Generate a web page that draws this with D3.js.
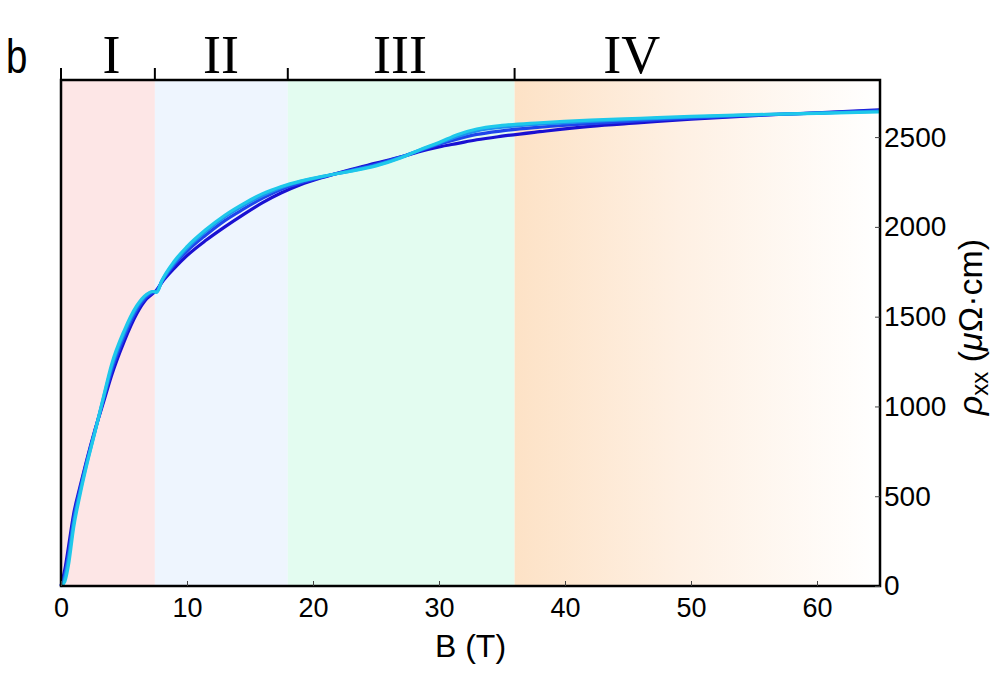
<!DOCTYPE html>
<html>
<head>
<meta charset="utf-8">
<script src="https://cdn.jsdelivr.net/npm/d3@7"></script>
<style>
  body { margin: 0; background: #fff; }
  svg { display: block; font-family: Arial, "Liberation Sans", sans-serif; }
</style>
</head>
<body>
<div id="chart"></div>
<script>
// field values (T) shared by all sweeps
var field = [0, 0.3, 0.6, 1.0, 1.5, 2.0, 2.7, 3.4, 4.0, 5.0, 6.0, 6.8, 7.3, 7.6, 8.0, 9.0, 10, 11.5, 13, 14.5, 16, 17.5, 19, 21, 23, 25, 27, 28.5, 30, 31.5, 33, 35, 38, 42, 46, 50, 55, 60, 65];

// rho_xx (uOhm cm), one array per sweep
var rho1 = [0, 90, 220, 400, 550, 690, 870, 1030, 1170, 1360, 1515, 1600, 1630, 1650, 1690, 1770, 1840, 1925, 2000, 2070, 2135, 2190, 2235, 2280, 2320, 2355, 2390, 2420, 2445, 2465, 2485, 2505, 2530, 2560, 2580, 2600, 2620, 2635, 2652];
var rho2 = [0, 65, 180, 375, 535, 682, 866, 1045, 1195, 1385, 1535, 1610, 1635, 1645, 1695, 1790, 1865, 1955, 2035, 2100, 2160, 2210, 2245, 2282, 2315, 2348, 2390, 2425, 2460, 2490, 2515, 2535, 2555, 2575, 2592, 2606, 2622, 2634, 2648];
var rho3 = [0, 45, 155, 350, 522, 672, 862, 1055, 1215, 1405, 1550, 1620, 1640, 1640, 1698, 1800, 1880, 1975, 2055, 2120, 2175, 2220, 2252, 2284, 2312, 2343, 2388, 2428, 2466, 2505, 2535, 2555, 2572, 2588, 2600, 2612, 2624, 2633, 2644];
var rho4 = [0, 25, 120, 325, 505, 662, 858, 1062, 1230, 1420, 1560, 1625, 1640, 1635, 1700, 1810, 1890, 1985, 2065, 2130, 2185, 2225, 2255, 2285, 2310, 2340, 2385, 2430, 2470, 2515, 2545, 2565, 2580, 2595, 2605, 2615, 2625, 2632, 2640];
var sweeps = [rho1, rho2, rho3, rho4];
var sweepColors = ["#1a10d2", "#1f45ec", "#1c8ff0", "#1ec8ea"];

// regions
var regionEdges = [0, 7.45, 18.0, 36.0, 65];
var regionNames = ["I", "II", "III", "IV"];
var regionLabelB = [4.0, 12.7, 26.9, 45.3];
var regionFills = ["#fde6e6", "#eef5fe", "#e3fcf0", "url(#fadeIV)"];

var xTicks = [0, 10, 20, 30, 40, 50, 60];
var yTicks = [0, 500, 1000, 1500, 2000, 2500];

var width = 1000, height = 677;
var margin = {left: 61, right: 120, top: 80, bottom: 91};

var svg = d3.select("#chart").append("svg")
            .attr("width", width)
            .attr("height", height);

var x = d3.scaleLinear().domain([0, 65]).range([margin.left, width - margin.right]);
var y = d3.scaleLinear().domain([0, 2818]).range([height - margin.bottom, margin.top]);

var grad = svg.append("defs").append("linearGradient")
              .attr("id", "fadeIV")
              .attr("x1", "0%").attr("x2", "100%")
              .attr("y1", "0%").attr("y2", "0%");
grad.append("stop").attr("offset", "0%").attr("stop-color", "#fde2c6");
grad.append("stop").attr("offset", "45%").attr("stop-color", "#fef0e3");
grad.append("stop").attr("offset", "100%").attr("stop-color", "#ffffff");

// background bands
svg.append("g").selectAll("rect")
   .data(regionNames)
   .enter()
   .append("rect")
   .attr("x", function(d, i) { return x(regionEdges[i]); })
   .attr("y", y(2818))
   .attr("width", function(d, i) { return x(regionEdges[i + 1]) - x(regionEdges[i]); })
   .attr("height", y(0) - y(2818))
   .attr("fill", function(d, i) { return regionFills[i]; });

// curves
var line = d3.line()
             .x(function(d) { return x(d[0]); })
             .y(function(d) { return y(d[1]); })
             .curve(d3.curveMonotoneX);

svg.append("g").selectAll("path")
   .data(sweeps)
   .enter()
   .append("path")
   .attr("d", function(s) { return line(field.map(function(b, i) { return [b, s[i]]; })); })
   .attr("fill", "none")
   .attr("stroke", function(d, i) { return sweepColors[i]; })
   .attr("stroke-width", 3.2)
   .attr("stroke-linejoin", "round");

// frame
svg.append("rect")
   .attr("x", x(0)).attr("y", y(2818))
   .attr("width", x(65) - x(0)).attr("height", y(0) - y(2818))
   .attr("fill", "none")
   .attr("stroke", "#000")
   .attr("stroke-width", 2.5);

// bottom axis
var xAxis = d3.axisBottom(x).tickValues(xTicks).tickFormat(d3.format("d"))
              .tickSizeInner(-5).tickSizeOuter(0).tickPadding(12);
var gx = svg.append("g").attr("transform", "translate(0," + y(0) + ")").call(xAxis);
gx.select(".domain").remove();
gx.selectAll("line").attr("stroke", "#444").attr("stroke-width", 1);
gx.selectAll("text").attr("font-size", 27).attr("fill", "#000").attr("font-family", "Arial, 'Liberation Sans', sans-serif");

// right axis
var yAxis = d3.axisRight(y).tickValues(yTicks).tickFormat(d3.format("d"))
              .tickSizeInner(-5).tickSizeOuter(0).tickPadding(4);
var gy = svg.append("g").attr("transform", "translate(" + x(65) + ",0)").call(yAxis);
gy.select(".domain").remove();
gy.selectAll("line").attr("stroke", "#444").attr("stroke-width", 1);
gy.selectAll("text").attr("font-size", 28).attr("fill", "#000").attr("font-family", "Arial, 'Liberation Sans', sans-serif");

// top region axis
var topG = svg.append("g");
topG.selectAll("line")
    .data(regionEdges.slice(0, 4))
    .enter()
    .append("line")
    .attr("x1", function(d) { return x(d); })
    .attr("x2", function(d) { return x(d); })
    .attr("y1", y(2818))
    .attr("y2", y(2818) - 12)
    .attr("stroke", "#000")
    .attr("stroke-width", 2);

topG.selectAll("text")
    .data(regionNames)
    .enter()
    .append("text")
    .attr("x", function(d, i) { return x(regionLabelB[i]); })
    .attr("y", 73)
    .attr("text-anchor", "middle")
    .attr("font-family", "'Liberation Serif', 'Times New Roman', serif")
    .attr("font-size", 54)
    .text(function(d) { return d; });

// panel letter
svg.append("text")
   .attr("transform", "translate(6,73) scale(0.8,1)")
   .attr("font-size", 48)
   .text("b");

// axis titles
svg.append("text")
   .attr("x", (x(0) + x(65)) / 2)
   .attr("y", 657)
   .attr("text-anchor", "middle")
   .attr("font-size", 32)
   .text("B (T)");

var yl = svg.append("text")
   .attr("transform", "translate(982,327) rotate(-90)")
   .attr("text-anchor", "middle")
   .attr("font-size", 34);
yl.append("tspan").attr("font-style", "italic").text("ρ");
yl.append("tspan").attr("font-size", 24).attr("dy", 6).text("xx");
yl.append("tspan").attr("dy", -6).text(" (");
yl.append("tspan").attr("font-style", "italic").text("μ");
yl.append("tspan").text("Ω·cm)");
</script>
</body>
</html>
